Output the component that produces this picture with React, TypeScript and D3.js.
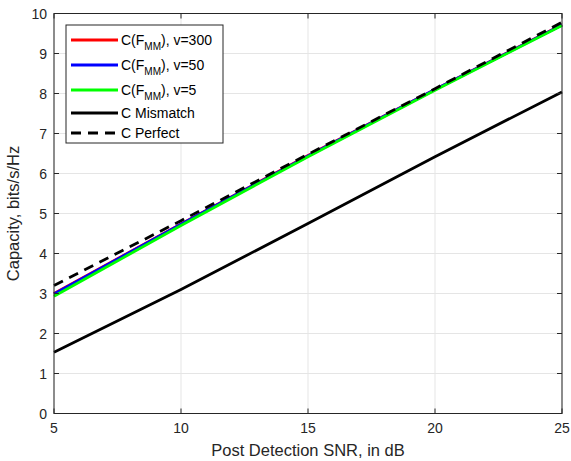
import React, { useEffect, useRef } from 'react';
import * as d3 from 'd3';

// SNR points (dB)
const snr = [5, 10, 15, 20, 25];
// capacity curves
const capV300 = [3.0, 4.74, 6.45, 8.1, 9.72];
const capV50 = [2.99, 4.73, 6.44, 8.1, 9.71];
const capV5 = [2.93, 4.7, 6.42, 8.08, 9.7];
const capMismatch = [1.53, 3.1, 4.75, 6.42, 8.04];
const capPerfect = [3.2, 4.82, 6.48, 8.12, 9.78];

const xTicks = [5, 10, 15, 20, 25];
const yTicks = [0, 1, 2, 3, 4, 5, 6, 7, 8, 9, 10];

const series = [
  { name: 'v=300', values: capV300, color: '#ff0000', dash: null, sub: true },
  { name: 'v=50', values: capV50, color: '#0000ff', dash: null, sub: true },
  { name: 'v=5', values: capV5, color: '#00ff00', dash: null, sub: true },
  { name: 'C Mismatch', values: capMismatch, color: '#000000', dash: null, sub: false },
  { name: 'C Perfect', values: capPerfect, color: '#000000', dash: '10,7', sub: false },
];

const App = () => {
  const svgRef = useRef<SVGSVGElement>(null);

  useEffect(() => {
    const svg = d3.select(svgRef.current);
    svg.selectAll('*').remove();

    const W = 571;
    const H = 461;
    const margin = { top: 13.5, right: 9, bottom: 47.5, left: 54 };
    const width = W - margin.left - margin.right;
    const height = H - margin.top - margin.bottom;
    const font = 'Liberation Sans, Arial, sans-serif';

    svg.attr('width', W).attr('height', H);
    svg.append('rect').attr('width', W).attr('height', H).attr('fill', '#fff');

    const g = svg.append('g').attr('transform', `translate(${margin.left},${margin.top})`);

    const x = d3.scaleLinear().domain([5, 25]).range([0, width]);
    const y = d3.scaleLinear().domain([0, 10]).range([height, 0]);

    // grid
    g.selectAll('.vgrid')
      .data(xTicks)
      .enter()
      .append('line')
      .attr('x1', d => x(d)).attr('x2', d => x(d))
      .attr('y1', 0).attr('y2', height)
      .attr('stroke', '#e5e5e5').attr('stroke-width', 1);
    g.selectAll('.hgrid')
      .data(yTicks)
      .enter()
      .append('line')
      .attr('x1', 0).attr('x2', width)
      .attr('y1', d => y(d)).attr('y2', d => y(d))
      .attr('stroke', '#e5e5e5').attr('stroke-width', 1);

    // lines
    const line = d3.line<number>()
      .x((d, i) => x(snr[i]))
      .y(d => y(d));

    series.forEach(s => {
      g.append('path')
        .datum(s.values)
        .attr('d', line)
        .attr('fill', 'none')
        .attr('stroke', s.color)
        .attr('stroke-width', 2.8)
        .attr('stroke-dasharray', s.dash);
    });

    // axes box
    g.append('rect')
      .attr('width', width).attr('height', height)
      .attr('fill', 'none').attr('stroke', '#262626').attr('stroke-width', 1);

    // ticks (inward) on all sides
    const tl = 5;
    xTicks.forEach(t => {
      g.append('line').attr('x1', x(t)).attr('x2', x(t)).attr('y1', height).attr('y2', height - tl).attr('stroke', '#262626');
      g.append('line').attr('x1', x(t)).attr('x2', x(t)).attr('y1', 0).attr('y2', tl).attr('stroke', '#262626');
      g.append('text')
        .attr('x', x(t)).attr('y', height + 19)
        .attr('text-anchor', 'middle')
        .style('font-family', font).style('font-size', '14px').attr('fill', '#262626')
        .text(t);
    });
    yTicks.forEach(t => {
      g.append('line').attr('x1', 0).attr('x2', tl).attr('y1', y(t)).attr('y2', y(t)).attr('stroke', '#262626');
      g.append('line').attr('x1', width).attr('x2', width - tl).attr('y1', y(t)).attr('y2', y(t)).attr('stroke', '#262626');
      g.append('text')
        .attr('x', -7).attr('y', y(t) + 5)
        .attr('text-anchor', 'end')
        .style('font-family', font).style('font-size', '14px').attr('fill', '#262626')
        .text(t);
    });

    // axis labels
    g.append('text')
      .attr('x', width / 2).attr('y', height + 42)
      .attr('text-anchor', 'middle')
      .style('font-family', font).style('font-size', '16.5px').attr('fill', '#262626')
      .text('Post Detection SNR, in dB');
    g.append('text')
      .attr('transform', 'rotate(-90)')
      .attr('x', -height / 2).attr('y', -35)
      .attr('text-anchor', 'middle')
      .style('font-family', font).style('font-size', '16.5px').attr('fill', '#262626')
      .text('Capacity, bits/s/Hz');

    // legend
    const lg = svg.append('g').attr('transform', 'translate(66,25)');
    lg.append('rect')
      .attr('width', 157).attr('height', 118)
      .attr('fill', '#fff').attr('stroke', '#262626').attr('stroke-width', 1);
    const rowY = [15, 40, 65, 88, 108];
    series.forEach((s, i) => {
      const ry = rowY[i];
      lg.append('line')
        .attr('x1', 5).attr('x2', 52).attr('y1', ry).attr('y2', ry)
        .attr('stroke', s.color).attr('stroke-width', 2.8)
        .attr('stroke-dasharray', s.dash);
      const t = lg.append('text')
        .attr('x', 55).attr('y', ry + 5)
        .style('font-family', font).style('font-size', '14px').attr('fill', '#000');
      if (s.sub) {
        t.append('tspan').text('C(F');
        t.append('tspan').attr('dy', 4.5).style('font-size', '10px').text('MM');
        t.append('tspan').attr('dy', -4.5).text(`), ${s.name}`);
      } else {
        t.text(s.name);
      }
    });
  }, []);

  return (
    <div style={{ position: 'absolute', left: 0, top: 0 }}>
      <svg ref={svgRef} style={{ display: 'block' }}></svg>
    </div>
  );
};

export default App;
